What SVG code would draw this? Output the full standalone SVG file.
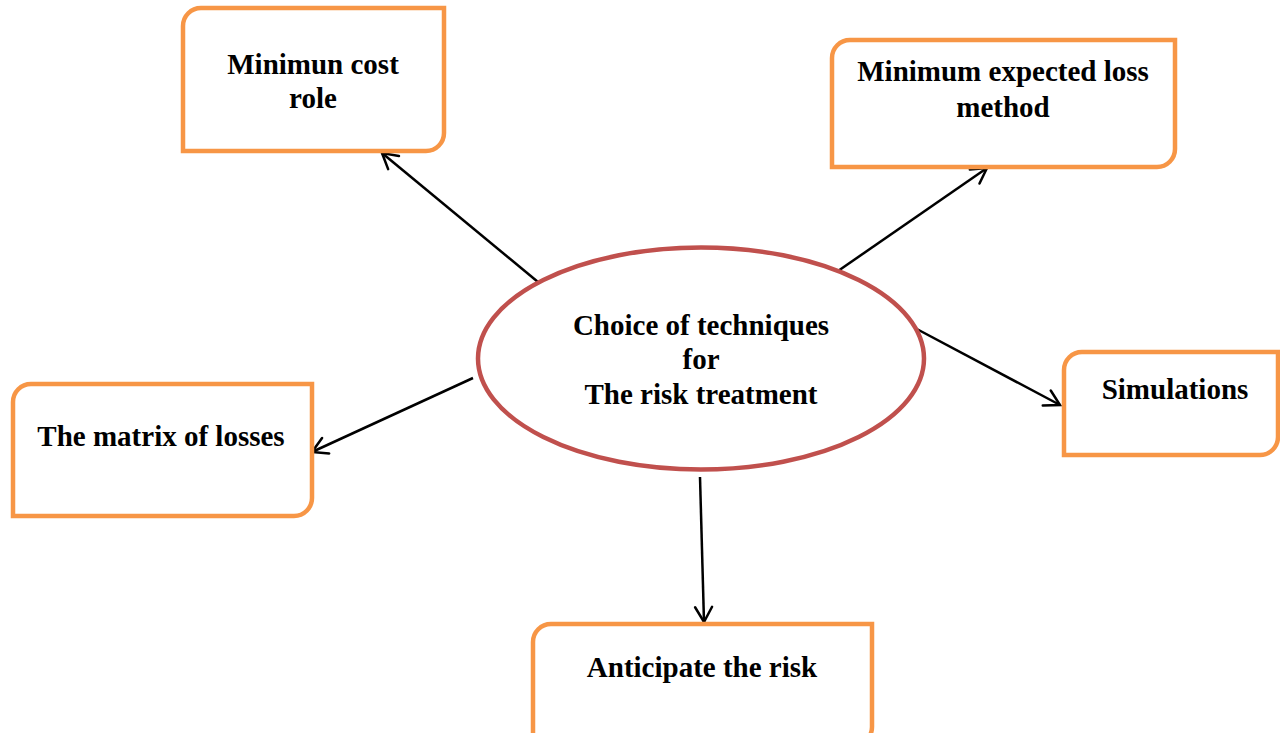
<svg xmlns="http://www.w3.org/2000/svg" width="1280" height="733" viewBox="0 0 1280 733">
<style>
.box{fill:#fff;stroke:#F79646;stroke-width:4.5}
.ell{fill:#fff;stroke:#C0504D;stroke-width:4.5}
.lbl{font-family:"Liberation Serif","Times New Roman",serif;font-weight:bold;font-size:29px;fill:#000;text-anchor:middle}
.con{stroke:#000;stroke-width:2.5;fill:none;marker-end:url(#arr)}
</style>
<defs>
<marker id="arr" markerUnits="userSpaceOnUse" markerWidth="30" markerHeight="30" refX="0" refY="0" viewBox="-20 -15 30 30" orient="auto" overflow="visible">
<path d="M-15,-8.5 L0,0 L-15,8.5" fill="none" stroke="#000" stroke-width="2.5" stroke-linecap="round" stroke-linejoin="miter"/>
</marker>
</defs>
<rect width="1280" height="733" fill="#fff"/>
<g id="connectors">
<line class="con" x1="538" y1="282" x2="382" y2="153"/>
<line class="con" x1="838" y1="271" x2="987" y2="168"/>
<line class="con" x1="913" y1="327" x2="1060" y2="405"/>
<line class="con" x1="473" y1="378" x2="312" y2="452"/>
<line class="con" x1="700" y1="477" x2="704" y2="622"/>
</g>
<g id="center">
<ellipse class="ell" cx="701" cy="358.5" rx="223" ry="111"/>
<text class="lbl" x="701" y="335">Choice of techniques</text>
<text class="lbl" x="701" y="369">for</text>
<text class="lbl" x="701" y="404">The risk treatment</text>
</g>
<g id="n-mincost">
<path class="box" d="M183,26 A18,18 0 0 1 201,8 H444 V133 A18,18 0 0 1 426,151 H183 Z"/>
<text class="lbl" x="313" y="74">Minimun cost</text>
<text class="lbl" x="313" y="108">role</text>
</g>
<g id="n-minloss">
<path class="box" d="M832,58 A18,18 0 0 1 850,40 H1175 V149 A18,18 0 0 1 1157,167 H832 Z"/>
<text class="lbl" x="1003" y="81">Minimum expected loss</text>
<text class="lbl" x="1003" y="117">method</text>
</g>
<g id="n-sim">
<path class="box" d="M1064,370 A18,18 0 0 1 1082,352 H1278 V437 A18,18 0 0 1 1260,455 H1064 Z"/>
<text class="lbl" x="1175" y="399">Simulations</text>
</g>
<g id="n-matrix">
<path class="box" d="M13,402 A18,18 0 0 1 31,384 H312 V498 A18,18 0 0 1 294,516 H13 Z"/>
<text class="lbl" x="161" y="446">The matrix of losses</text>
</g>
<g id="n-anticipate">
<path class="box" d="M533,642 A18,18 0 0 1 551,624 H872 V727 A18,18 0 0 1 854,745 H533 Z"/>
<text class="lbl" x="702" y="677">Anticipate the risk</text>
</g>
</svg>
